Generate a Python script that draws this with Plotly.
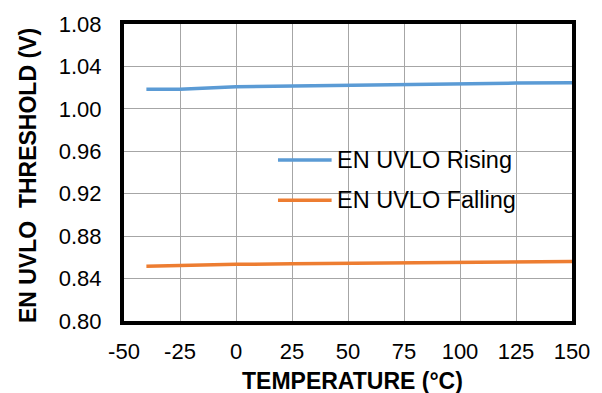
import plotly.graph_objects as go

temps = [-40, -25, 0, 25, 50, 75, 100, 125, 150]
rising = [1.0184, 1.0185, 1.0209, 1.0217, 1.0224, 1.0232, 1.0240, 1.0243, 1.0246]
falling = [0.8516, 0.8525, 0.8534, 0.8540, 0.8546, 0.8551, 0.8555, 0.8559, 0.8562]
x_ticks = [-50, -25, 0, 25, 50, 75, 100, 125, 150]
y_ticks = [0.80, 0.84, 0.88, 0.92, 0.96, 1.00, 1.04, 1.08]
series_names = ["EN UVLO Rising", "EN UVLO Falling"]
colors = ["#5B9BD5", "#ED7D31"]

fig = go.Figure()
for vals, name, col in zip([rising, falling], series_names, colors):
    fig.add_trace(go.Scatter(x=temps, y=vals, mode="lines", name=name,
                             line=dict(color=col, width=3.5), showlegend=False))

font = "Liberation Sans, Arial, sans-serif"

# manual legend (box, sample lines, labels) in paper coordinates
shapes = [dict(type="rect", xref="paper", yref="paper", x0=0.2483, x1=0.995,
               y0=0.340, y1=0.614, fillcolor="white", line=dict(width=0),
               layer="between")]
annotations = []
leg_y = [0.5422, 0.4069]
for name, col, ly in zip(series_names, colors, leg_y):
    shapes.append(dict(type="line", xref="paper", yref="paper", x0=0.3437, x1=0.4634,
                       y0=ly, y1=ly, line=dict(color=col, width=3.5), layer="above"))
    annotations.append(dict(text=name, xref="paper", yref="paper", x=0.4715, y=ly,
                            xanchor="left", yanchor="middle", showarrow=False,
                            font=dict(size=23.5, family=font, color="black")))

annotations += [
    dict(text="<b>TEMPERATURE (°C)</b>", xref="paper", yref="paper",
         x=0.51, y=-0.203, xanchor="center", yanchor="middle", showarrow=False,
         font=dict(size=23, family=font)),
    dict(text="<b>EN UVLO&nbsp; THRESHOLD (V)</b>", xref="paper", yref="paper",
         x=-0.2129, y=0.49, xanchor="center", yanchor="middle", textangle=-90,
         showarrow=False, font=dict(size=23, family=font)),
]

fig.update_layout(
    width=602, height=393,
    margin=dict(l=124, r=27, t=18, b=72),
    paper_bgcolor="white", plot_bgcolor="white",
    font=dict(family=font, size=22, color="black"),
    showlegend=False,
    xaxis=dict(range=[-50, 150], tickvals=x_ticks, ticktext=[str(v) for v in x_ticks],
               showgrid=True, gridcolor="#A6A6A6", gridwidth=1,
               showline=True, linecolor="black", linewidth=4, mirror=True,
               ticks="", zeroline=False, tickfont=dict(size=22), ticklabelstandoff=8),
    yaxis=dict(range=[0.80, 1.08], tickvals=y_ticks, ticktext=[f"{v:.2f}" for v in y_ticks],
               showgrid=True, gridcolor="#A6A6A6", gridwidth=1,
               showline=True, linecolor="black", linewidth=4, mirror=True,
               ticks="", zeroline=False, tickfont=dict(size=22), ticklabelstandoff=14),
    shapes=shapes,
    annotations=annotations,
)

fig.write_html("out.html")
